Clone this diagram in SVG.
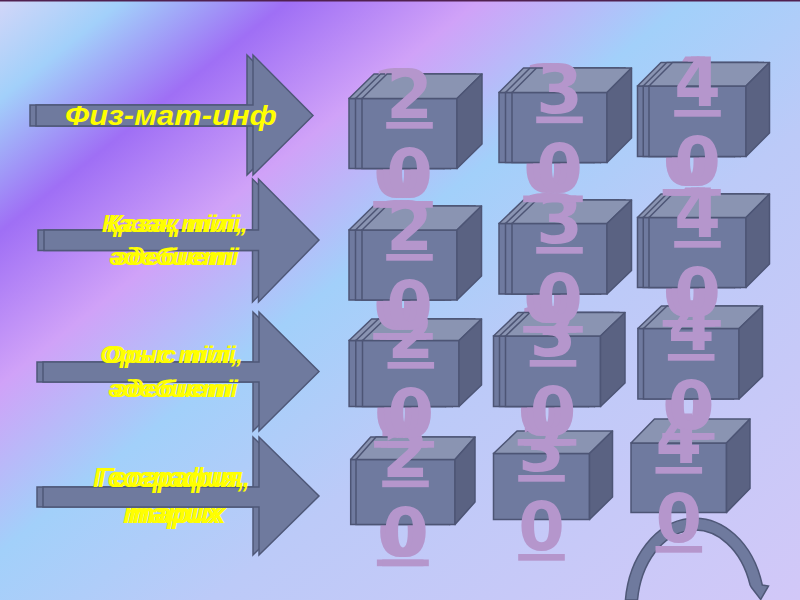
<svg xmlns="http://www.w3.org/2000/svg" xmlns:xlink="http://www.w3.org/1999/xlink" width="800" height="600" viewBox="0 0 800 600">
<style>
.arr{fill:#6f7a9e;stroke:#4f5878;stroke-width:1.5;stroke-linejoin:miter}
.lbl{font-family:"Liberation Sans",Arial,sans-serif;font-weight:bold;font-style:italic;fill:#ffff00}
.fr{fill:#6f7a9f;stroke:#4d5575;stroke-width:1.5}
.tp{fill:#8a94b2;stroke:#4d5575;stroke-width:1.5;stroke-linejoin:round}
.sd{fill:#5a6282;stroke:#4d5575;stroke-width:1.5;stroke-linejoin:round}
.num{font-family:"DejaVu Sans",Verdana,sans-serif;font-weight:bold;font-size:67px;fill:#b596cc;text-anchor:middle;text-decoration:underline;text-decoration-thickness:5px;text-underline-offset:3px}
.curve{fill:#6f7a9e;stroke:#4f5878;stroke-width:1.5}
</style>
<defs>
<linearGradient id="bg" gradientUnits="userSpaceOnUse" x1="0" y1="0" x2="605" y2="756">
<stop offset="0" stop-color="#d2d6f8"/>
<stop offset="0.08" stop-color="#a2d0fa"/>
<stop offset="0.187" stop-color="#9f6ff5"/>
<stop offset="0.31" stop-color="#d0a2f8"/>
<stop offset="0.445" stop-color="#a2d0fa"/>
<stop offset="0.62" stop-color="#bccaf8"/>
<stop offset="1" stop-color="#d2c8f8"/>
</linearGradient>
<g id="b11"><rect class="fr" x="362" y="98.5" width="95" height="70"/><polygon class="tp" points="362,98.5 387,74 482,74 457,98.5"/><polygon class="sd" points="457,98.5 482,74 482,144 457,168.5"/></g>
<g id="b12"><rect class="fr" x="512" y="92.5" width="95" height="70"/><polygon class="tp" points="512,92.5 536.5,68 631.5,68 607,92.5"/><polygon class="sd" points="607,92.5 631.5,68 631.5,138 607,162.5"/></g>
<g id="b13"><rect class="fr" x="649" y="86" width="97" height="70.5"/><polygon class="tp" points="649,86 672.5,62.5 769.5,62.5 746,86"/><polygon class="sd" points="746,86 769.5,62.5 769.5,133 746,156.5"/></g>
<g id="b21"><rect class="fr" x="362" y="230" width="95" height="70"/><polygon class="tp" points="362,230 386.5,206 481.5,206 457,230"/><polygon class="sd" points="457,230 481.5,206 481.5,276 457,300"/></g>
<g id="b22"><rect class="fr" x="512" y="223.5" width="95" height="70.5"/><polygon class="tp" points="512,223.5 536.5,200 631.5,200 607,223.5"/><polygon class="sd" points="607,223.5 631.5,200 631.5,270.5 607,294"/></g>
<g id="b23"><rect class="fr" x="649" y="217.5" width="97" height="70"/><polygon class="tp" points="649,217.5 672.5,194 769.5,194 746,217.5"/><polygon class="sd" points="746,217.5 769.5,194 769.5,264 746,287.5"/></g>
<g id="b31"><rect class="fr" x="362.5" y="340.5" width="96.5" height="66"/><polygon class="tp" points="362.5,340.5 385,319 481.5,319 459,340.5"/><polygon class="sd" points="459,340.5 481.5,319 481.5,385 459,406.5"/></g>
<g id="b32"><rect class="fr" x="505.5" y="336" width="95" height="70.5"/><polygon class="tp" points="505.5,336 530,312.5 625,312.5 600.5,336"/><polygon class="sd" points="600.5,336 625,312.5 625,383 600.5,406.5"/></g>
<g id="b33"><rect class="fr" x="643.5" y="328.5" width="95.5" height="70.5"/><polygon class="tp" points="643.5,328.5 667,306 762.5,306 739,328.5"/><polygon class="sd" points="739,328.5 762.5,306 762.5,376.5 739,399"/></g>
<g id="b41"><rect class="fr" x="356" y="459.5" width="99" height="65"/><polygon class="tp" points="356,459.5 376,437 475,437 455,459.5"/><polygon class="sd" points="455,459.5 475,437 475,502 455,524.5"/></g>
<g id="b42"><rect class="fr" x="493.5" y="453.5" width="96" height="66"/><polygon class="tp" points="493.5,453.5 517,431 612.5,431 589.5,453.5"/><polygon class="sd" points="589.5,453.5 612.5,431 612.5,497 589.5,519.5"/></g>
<g id="b43"><rect class="fr" x="631" y="443" width="95.5" height="69.5"/><polygon class="tp" points="631,443 654.5,419 750,419 726.5,443"/><polygon class="sd" points="726.5,443 750,419 750,488.5 726.5,512.5"/></g>
</defs>

<rect x="0" y="0" width="800" height="600" fill="url(#bg)"/>
<rect x="0" y="0" width="800" height="1.5" fill="#502050"/>

<g id="label-fizmat">
<polygon class="arr" transform="translate(-6,0)" points="36,105 253,105 253,55 313,115.5 253,175 253,126 36,126"/>
<polygon class="arr" points="36,105 253,105 253,55 313,115.5 253,175 253,126 36,126"/>
<text class="lbl" x="65" y="125" font-size="28" textLength="212" lengthAdjust="spacingAndGlyphs">Физ-мат-инф</text>
</g>

<g id="label-kazakh">
<polygon class="arr" transform="translate(-6,0)" points="44,230 258.5,230 258.5,179 319,240 258.5,302 258.5,250.5 44,250.5"/>
<polygon class="arr" points="44,230 258.5,230 258.5,179 319,240 258.5,302 258.5,250.5 44,250.5"/>
<text class="lbl" x="101.7" y="231.5" font-size="23" textLength="141" lengthAdjust="spacingAndGlyphs">Қазақ тілі,</text>
<text class="lbl" x="106.7" y="231.5" font-size="23" textLength="141" lengthAdjust="spacingAndGlyphs">Қазақ тілі,</text>
<text class="lbl" x="109" y="265" font-size="23" textLength="125" lengthAdjust="spacingAndGlyphs">әдебиеті</text>
<text class="lbl" x="114" y="265" font-size="23" textLength="125" lengthAdjust="spacingAndGlyphs">әдебиеті</text>
</g>

<g id="label-russian">
<polygon class="arr" transform="translate(-6,0)" points="43,362 259,362 259,312 319,371.5 259,431 259,382 43,382"/>
<polygon class="arr" points="43,362 259,362 259,312 319,371.5 259,431 259,382 43,382"/>
<text class="lbl" x="100" y="363" font-size="23" textLength="138" lengthAdjust="spacingAndGlyphs">Орыс тілі,</text>
<text class="lbl" x="105" y="363" font-size="23" textLength="138" lengthAdjust="spacingAndGlyphs">Орыс тілі,</text>
<text class="lbl" x="108" y="397" font-size="23" textLength="125" lengthAdjust="spacingAndGlyphs">әдебиеті</text>
<text class="lbl" x="113" y="397" font-size="23" textLength="125" lengthAdjust="spacingAndGlyphs">әдебиеті</text>
</g>

<g id="label-geography">
<polygon class="arr" transform="translate(-6,0)" points="43,487 259,487 259,437 319,496 259,555 259,507 43,507"/>
<polygon class="arr" points="43,487 259,487 259,437 319,496 259,555 259,507 43,507"/>
<text class="lbl" x="93" y="486.5" font-size="27" textLength="152" lengthAdjust="spacingAndGlyphs">География,</text>
<text class="lbl" x="98" y="486.5" font-size="27" textLength="152" lengthAdjust="spacingAndGlyphs">География,</text>
<text class="lbl" x="123" y="523" font-size="27" textLength="98" lengthAdjust="spacingAndGlyphs">тарих</text>
<text class="lbl" x="128" y="523" font-size="27" textLength="98" lengthAdjust="spacingAndGlyphs">тарих</text>
</g>

<g id="connectors">
<path class="curve" d="M625.4,600 A70,92 0 0 1 762.3,585 L768.5,586 L760.7,599.5 L751.5,587.5 L750.1,585 A58,80 0 0 0 637.5,600 Z"/>
</g>

<!-- row 4 -->
<g id="box-geo-20">
<use xlink:href="#b41" x="-5.3"/>
<text class="num" x="400.2" y="476.5"><tspan x="400.2">2</tspan><tspan x="400.2" dy="79">0</tspan></text>
<use xlink:href="#b41"/>
<text class="num" x="405.5" y="476.5"><tspan x="405.5">2</tspan><tspan x="405.5" dy="79">0</tspan></text>
</g>
<g id="box-geo-30">
<use xlink:href="#b42"/>
<text class="num" x="541.5" y="471"><tspan x="541.5">3</tspan><tspan x="541.5" dy="79">0</tspan></text>
</g>
<g id="box-geo-40">
<use xlink:href="#b43"/>
<text class="num" x="678.8" y="463"><tspan x="678.8">4</tspan><tspan x="678.8" dy="79">0</tspan></text>
</g>

<!-- row 3 -->
<g id="box-rus-20">
<use xlink:href="#b31" x="-13.4"/>
<text class="num" x="397.4" y="358"><tspan x="397.4">2</tspan><tspan x="397.4" dy="79">0</tspan></text>
<use xlink:href="#b31" x="-6.7"/>
<text class="num" x="404.1" y="358"><tspan x="404.1">2</tspan><tspan x="404.1" dy="79">0</tspan></text>
<use xlink:href="#b31"/>
<text class="num" x="410.8" y="358"><tspan x="410.8">2</tspan><tspan x="410.8" dy="79">0</tspan></text>
</g>
<g id="box-rus-30">
<use xlink:href="#b32" x="-12"/>
<text class="num" x="541" y="356"><tspan x="541">3</tspan><tspan x="541" dy="79">0</tspan></text>
<use xlink:href="#b32" x="-6"/>
<text class="num" x="547" y="356"><tspan x="547">3</tspan><tspan x="547" dy="79">0</tspan></text>
<use xlink:href="#b32"/>
<text class="num" x="553" y="356"><tspan x="553">3</tspan><tspan x="553" dy="79">0</tspan></text>
</g>
<g id="box-rus-40">
<use xlink:href="#b33" x="-5.6"/>
<text class="num" x="685.6" y="350"><tspan x="685.6">4</tspan><tspan x="685.6" dy="79">0</tspan></text>
<use xlink:href="#b33"/>
<text class="num" x="691.2" y="350"><tspan x="691.2">4</tspan><tspan x="691.2" dy="79">0</tspan></text>
</g>

<!-- row 2 -->
<g id="box-kaz-20">
<use xlink:href="#b21" x="-13"/>
<text class="num" x="396.5" y="250"><tspan x="396.5">2</tspan><tspan x="396.5" dy="79">0</tspan></text>
<use xlink:href="#b21" x="-6.5"/>
<text class="num" x="403" y="250"><tspan x="403">2</tspan><tspan x="403" dy="79">0</tspan></text>
<use xlink:href="#b21"/>
<text class="num" x="409.5" y="250"><tspan x="409.5">2</tspan><tspan x="409.5" dy="79">0</tspan></text>
</g>
<g id="box-kaz-30">
<use xlink:href="#b22" x="-13"/>
<text class="num" x="546.5" y="243"><tspan x="546.5">3</tspan><tspan x="546.5" dy="79">0</tspan></text>
<use xlink:href="#b22" x="-6.5"/>
<text class="num" x="553" y="243"><tspan x="553">3</tspan><tspan x="553" dy="79">0</tspan></text>
<use xlink:href="#b22"/>
<text class="num" x="559.5" y="243"><tspan x="559.5">3</tspan><tspan x="559.5" dy="79">0</tspan></text>
</g>
<g id="box-kaz-40">
<use xlink:href="#b23" x="-11.5"/>
<text class="num" x="686" y="237"><tspan x="686">4</tspan><tspan x="686" dy="79">0</tspan></text>
<use xlink:href="#b23" x="-5.75"/>
<text class="num" x="691.75" y="237"><tspan x="691.75">4</tspan><tspan x="691.75" dy="79">0</tspan></text>
<use xlink:href="#b23"/>
<text class="num" x="697.5" y="237"><tspan x="697.5">4</tspan><tspan x="697.5" dy="79">0</tspan></text>
</g>

<!-- row 1 -->
<g id="box-fiz-20">
<use xlink:href="#b11" x="-13"/>
<text class="num" x="396.5" y="118"><tspan x="396.5">2</tspan><tspan x="396.5" dy="79">0</tspan></text>
<use xlink:href="#b11" x="-6.5"/>
<text class="num" x="403" y="118"><tspan x="403">2</tspan><tspan x="403" dy="79">0</tspan></text>
<use xlink:href="#b11"/>
<text class="num" x="409.5" y="118"><tspan x="409.5">2</tspan><tspan x="409.5" dy="79">0</tspan></text>
</g>
<g id="box-fiz-30">
<use xlink:href="#b12" x="-13"/>
<text class="num" x="546.5" y="112.5"><tspan x="546.5">3</tspan><tspan x="546.5" dy="79">0</tspan></text>
<use xlink:href="#b12" x="-6.5"/>
<text class="num" x="553" y="112.5"><tspan x="553">3</tspan><tspan x="553" dy="79">0</tspan></text>
<use xlink:href="#b12"/>
<text class="num" x="559.5" y="112.5"><tspan x="559.5">3</tspan><tspan x="559.5" dy="79">0</tspan></text>
</g>
<g id="box-fiz-40">
<use xlink:href="#b13" x="-11.5"/>
<text class="num" x="686" y="106"><tspan x="686">4</tspan><tspan x="686" dy="79">0</tspan></text>
<use xlink:href="#b13" x="-5.75"/>
<text class="num" x="691.75" y="106"><tspan x="691.75">4</tspan><tspan x="691.75" dy="79">0</tspan></text>
<use xlink:href="#b13"/>
<text class="num" x="697.5" y="106"><tspan x="697.5">4</tspan><tspan x="697.5" dy="79">0</tspan></text>
</g>
</svg>
